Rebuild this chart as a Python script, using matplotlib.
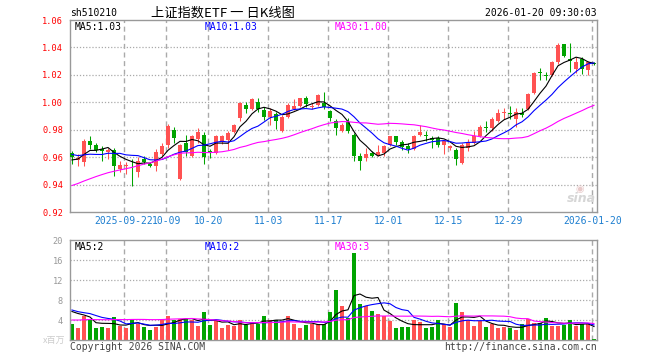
import numpy as np
import pandas as pd
import matplotlib
matplotlib.use("Agg")
import matplotlib.pyplot as plt

# K线数据 (88 个交易日, 2025-09-11 .. 2026-01-20)
opens = [0.9629, 0.9580, 0.9562, 0.9717, 0.9686, 0.9658, 0.9634, 0.9650, 0.9514, 0.9533,
         0.9567, 0.9490, 0.9586, 0.9550, 0.9533, 0.9622, 0.9686, 0.9796, 0.9442, 0.9701,
         0.9610, 0.9729, 0.9765, 0.9647, 0.9630, 0.9710, 0.9727, 0.9782, 0.9884, 0.9980,
         0.9952, 1.0005, 0.9944, 0.9896, 0.9913, 0.9787, 0.9891, 0.9952, 0.9976, 1.0029,
         0.9969, 0.9980, 0.9995, 0.9937, 0.9865, 0.9794, 0.9855, 0.9758, 0.9606, 0.9594,
         0.9630, 0.9618, 0.9630, 0.9686, 0.9751, 0.9710, 0.9678, 0.9661, 0.9758, 0.9763,
         0.9739, 0.9739, 0.9690, 0.9666, 0.9654, 0.9560, 0.9670, 0.9700, 0.9756, 0.9817,
         0.9812, 0.9866, 0.9920, 0.9920, 0.9879, 0.9920, 0.9952, 1.0067, 1.0221, 1.0197,
         1.0197, 1.0295, 1.0424, 1.0312, 1.0246, 1.0312, 1.0234, 1.0290]
highs = [0.9646, 0.9620, 0.9734, 0.9753, 0.9705, 0.9681, 0.9670, 0.9670, 0.9574, 0.9562,
         0.9586, 0.9598, 0.9610, 0.9557, 0.9662, 0.9705, 0.9842, 0.9820, 0.9693, 0.9765,
         0.9765, 0.9813, 0.9782, 0.9659, 0.9758, 0.9763, 0.9787, 0.9843, 1.0000, 1.0000,
         1.0030, 1.0030, 0.9969, 0.9956, 0.9932, 0.9908, 0.9993, 1.0024, 1.0034, 1.0048,
         0.9993, 1.0058, 1.0073, 0.9944, 0.9879, 0.9848, 0.9884, 0.9775, 0.9630, 0.9666,
         0.9642, 0.9686, 0.9686, 0.9751, 0.9751, 0.9727, 0.9703, 0.9758, 0.9831, 0.9787,
         0.9751, 0.9751, 0.9727, 0.9690, 0.9666, 0.9700, 0.9732, 0.9788, 0.9837, 0.9866,
         0.9890, 0.9952, 0.9960, 0.9976, 0.9957, 0.9960, 1.0067, 1.0221, 1.0253, 1.0221,
         1.0302, 1.0434, 1.0424, 1.0434, 1.0327, 1.0327, 1.0302, 1.0295]
lows = [0.9550, 0.9538, 0.9533, 0.9662, 0.9634, 0.9574, 0.9586, 0.9461, 0.9490, 0.9478,
        0.9389, 0.9454, 0.9550, 0.9526, 0.9502, 0.9610, 0.9670, 0.9705, 0.9435, 0.9610,
        0.9598, 0.9705, 0.9550, 0.9594, 0.9625, 0.9695, 0.9654, 0.9775, 0.9867, 0.9920,
        0.9944, 0.9927, 0.9872, 0.9831, 0.9807, 0.9782, 0.9884, 0.9944, 0.9969, 0.9969,
        0.9952, 0.9976, 0.9952, 0.9865, 0.9758, 0.9782, 0.9775, 0.9574, 0.9509, 0.9574,
        0.9599, 0.9606, 0.9606, 0.9678, 0.9686, 0.9654, 0.9630, 0.9654, 0.9751, 0.9720,
        0.9666, 0.9671, 0.9623, 0.9654, 0.9545, 0.9550, 0.9646, 0.9695, 0.9744, 0.9780,
        0.9793, 0.9854, 0.9879, 0.9879, 0.9817, 0.9890, 0.9944, 1.0057, 1.0165, 1.0160,
        1.0190, 1.0282, 1.0331, 1.0221, 1.0214, 1.0209, 1.0197, 1.0270]
closes = [0.9598, 0.9593, 0.9717, 0.9686, 0.9653, 0.9646, 0.9650, 0.9538, 0.9543, 0.9543,
          0.9562, 0.9574, 0.9567, 0.9533, 0.9638, 0.9681, 0.9830, 0.9741, 0.9686, 0.9634,
          0.9753, 0.9782, 0.9598, 0.9630, 0.9751, 0.9751, 0.9775, 0.9836, 0.9993, 0.9952,
          1.0024, 0.9952, 0.9896, 0.9937, 0.9867, 0.9896, 0.9980, 0.9976, 1.0029, 0.9985,
          0.9976, 1.0053, 0.9969, 0.9889, 0.9816, 0.9831, 0.9792, 0.9606, 0.9570, 0.9623,
          0.9606, 0.9637, 0.9678, 0.9751, 0.9710, 0.9671, 0.9661, 0.9751, 0.9782, 0.9756,
          0.9727, 0.9686, 0.9715, 0.9678, 0.9589, 0.9685, 0.9707, 0.9756, 0.9822, 0.9812,
          0.9879, 0.9920, 0.9928, 0.9915, 0.9928, 0.9910, 1.0062, 1.0214, 1.0214, 1.0190,
          1.0295, 1.0417, 1.0336, 1.0302, 1.0295, 1.0246, 1.0295, 1.0280]
volumes = [3.2, 2.5, 4.8, 4.3, 2.5, 2.6, 2.4, 4.6, 2.9, 2.4,
           4.2, 3.3, 2.6, 2.0, 2.7, 4.0, 4.8, 4.0, 4.3, 4.2,
           4.1, 2.8, 5.6, 3.0, 4.0, 2.5, 3.0, 2.8, 4.0, 3.1,
           3.7, 3.3, 4.9, 4.0, 4.0, 3.7, 4.8, 3.3, 2.5, 3.0,
           3.3, 3.3, 3.3, 5.6, 10.0, 6.8, 4.5, 17.5, 7.2, 6.8,
           5.8, 5.2, 4.9, 3.8, 2.4, 2.6, 2.6, 4.0, 3.7, 2.4,
           2.6, 4.0, 3.2, 2.6, 7.5, 5.7, 4.0, 2.8, 3.8, 2.6,
           3.3, 2.4, 2.6, 2.4, 2.0, 3.3, 4.2, 3.5, 3.5, 4.5,
           2.8, 2.8, 3.0, 4.0, 2.8, 3.2, 3.2, 0.3]

# 窗口之前的 29 天 (只用于均线起点, 按图中均线估计)
prior_closes = [0.915, 0.918, 0.920, 0.917, 0.921, 0.924, 0.922, 0.925, 0.927, 0.928,
                0.920, 0.923, 0.925, 0.924, 0.927, 0.930, 0.932, 0.935, 0.955, 0.972,
                0.968, 0.966, 0.964, 0.967, 0.965, 0.956, 0.955, 0.954, 0.965]
prior_volumes = [2.8, 3.1, 2.6, 3.4, 2.9, 3.0, 3.3, 2.7, 2.9, 3.2,
                 3.0, 2.8, 3.1, 2.9, 3.3, 3.0, 2.7, 3.2, 3.1, 3.0,
                 5.8, 6.9, 6.1, 6.4, 6.3, 4.5, 6.3, 6.3, 8.2]

tick_idx = [9, 16, 23, 33, 43, 53, 63, 73, 87]
tick_labels = ["2025-09-22", "10-09", "10-20", "11-03", "11-17",
               "12-01", "12-15", "12-29", "2026-01-20"]
price_ticks = [0.92, 0.94, 0.96, 0.98, 1.00, 1.02, 1.04, 1.06]
vol_ticks = [4, 8, 12, 16, 20]
ma_names = ["MA5", "MA10", "MA30"]
ma_windows = [5, 10, 30]
price_ma_text = ["1.03", "1.03", "1.00"]
vol_ma_text = ["2", "2", "3"]

RED = "#ff5252"
GREEN = "#00a400"
MA_COLORS = ["#000000", "#0000ff", "#ff00ff"]
GRID = "#aaaaaa"
MONO = "DejaVu Sans Mono"
CJK = ["Noto Sans CJK SC", "DejaVu Sans"]

W, H = 660, 360


def fx(px):
    return px / W


def fy(py):
    return 1 - py / H


o = np.array(opens)
h = np.array(highs)
l = np.array(lows)
c = np.array(closes)
v = np.array(volumes)
n = len(c)
x = np.arange(n)
up = c >= o
colors = np.where(up, RED, GREEN)

all_c = pd.Series(prior_closes + closes)
all_v = pd.Series(prior_volumes + volumes)
price_ma = [all_c.rolling(w).mean().to_numpy()[-n:] for w in ma_windows]
vol_ma = [all_v.rolling(w).mean().to_numpy()[-n:] for w in ma_windows]

fig = plt.figure(figsize=(6.6, 3.6), dpi=100)
fig.patch.set_facecolor("white")

ax = fig.add_axes([fx(70), fy(212), fx(597) - fx(70), fy(20) - fy(212)])
axv = fig.add_axes([fx(70), fy(340), fx(597) - fx(70), fy(240) - fy(340)])

grid_x = [i - 0.3 for i in tick_idx]
for a in (ax, axv):
    a.set_xlim(-0.33, n - 0.5)
    for s in a.spines.values():
        s.set_color("#999999")
        s.set_linewidth(1.0)
    for gx in grid_x:
        a.axvline(gx, color=GRID, lw=1.0, dashes=(3.6, 2.6), zorder=0)
    a.tick_params(length=0)

# 价格
ax.set_ylim(0.92, 1.06)
for yv in price_ticks[1:-1]:
    ax.axhline(yv, color=GRID, lw=0.9, linestyle=(0, (1, 1.5)), zorder=0)
ax.set_yticks(price_ticks)
ax.set_yticklabels([f"{t:.2f}" for t in price_ticks], family=MONO, fontsize=6.2, color="red")
ax.tick_params(axis="y", pad=5)
ax.set_xticks(grid_x)
ax.set_xticklabels(tick_labels, family=MONO, fontsize=7, color="#1e7fd0")
ax.tick_params(axis="x", pad=3)

body_lo = np.minimum(o, c)
body_h = np.maximum(np.abs(c - o), 0.0006)
ax.vlines(x, l, h, colors=colors, lw=0.75, zorder=2)
ax.bar(x, body_h, width=0.75, bottom=body_lo, color=colors, linewidth=0, zorder=3)
for m, col in zip(price_ma, MA_COLORS):
    ax.plot(x, m, color=col, lw=0.8, zorder=4)

# 成交量
axv.set_ylim(0, 20)
for yv in vol_ticks[:-1]:
    axv.axhline(yv, color=GRID, lw=0.9, linestyle=(0, (1, 1.5)), zorder=0)
axv.set_yticks(vol_ticks)
axv.set_yticklabels([str(t) for t in vol_ticks], family=MONO, fontsize=6.2, color="#999999")
axv.tick_params(axis="y", pad=5)
axv.set_xticks([])
axv.bar(x, v, width=0.78, color=colors, linewidth=0, zorder=2)
for m, col in zip(vol_ma, MA_COLORS):
    axv.plot(x, m, color=col, lw=0.8, zorder=3)

# 文字
fig.text(fx(70), fy(13), "sh510210", family=MONO, fontsize=7, va="center", ha="left")
fig.text(fx(223), fy(13), "上证指数ETF 一 日K线图", family=CJK, fontsize=9.5,
         va="center", ha="center")
fig.text(fx(597), fy(13), "2026-01-20 09:30:03", family=MONO, fontsize=7,
         va="center", ha="right")
leg_x = [75, 205, 335]
for name, txt, vtxt, col, lx in zip(ma_names, price_ma_text, vol_ma_text, MA_COLORS, leg_x):
    fig.text(fx(lx), fy(26.5), f"{name}:{txt}", family=MONO, fontsize=7, color=col,
             va="center", ha="left")
    fig.text(fx(lx), fy(247), f"{name}:{vtxt}", family=MONO, fontsize=7, color=col,
             va="center", ha="left")
fig.text(fx(65), fy(340), "x百万", family=CJK, fontsize=6.5, color="#cccccc",
         va="center", ha="right")
fig.text(fx(70), fy(347), "Copyright 2026 SINA.COM", family=MONO, fontsize=7,
         color="#444444", va="center", ha="left")
fig.text(fx(597), fy(347), "http://finance.sina.com.cn", family=MONO, fontsize=7,
         color="#444444", va="center", ha="right")
fig.text(fx(581), fy(199), "sina", family="DejaVu Sans", fontsize=9, fontweight="bold",
         style="italic", color="#d6d6d6", va="center", ha="center")
fig.text(fx(580), fy(189), "◉", family="DejaVu Sans", fontsize=7,
         color="#e8caca", va="center", ha="center")

fig.savefig("out.png", dpi=100, facecolor="white")
